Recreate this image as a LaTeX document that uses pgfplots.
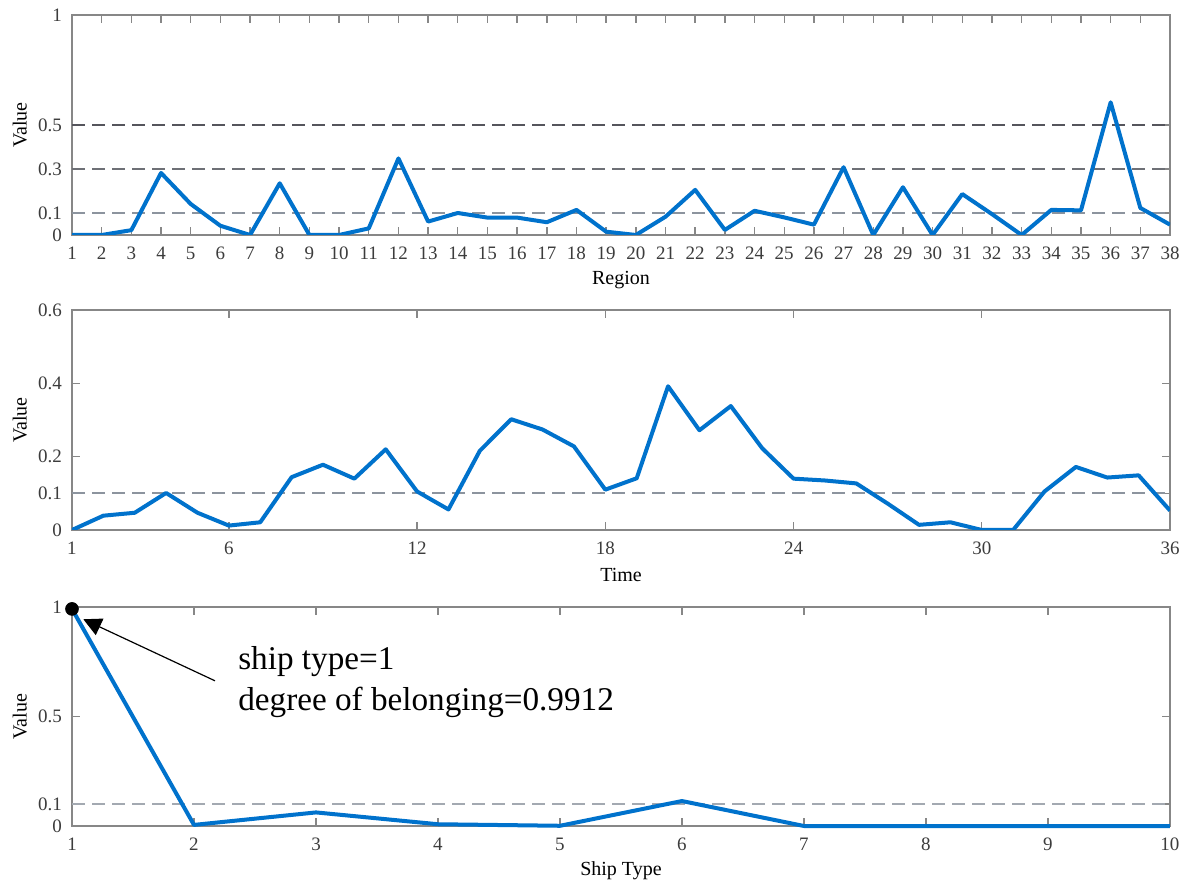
\documentclass[border=0pt]{standalone}
\usepackage{fontspec}
\setmainfont{Liberation Serif}
\usepackage{pgfplots}
\pgfplotsset{compat=1.18}
\usetikzlibrary{arrows.meta}

\definecolor{lineblue}{RGB}{0,114,204}
\definecolor{axgray}{RGB}{135,135,135}
\definecolor{txtgray}{RGB}{60,60,60}
\definecolor{refdark}{RGB}{85,85,92}
\definecolor{refmid}{RGB}{110,112,118}
\definecolor{reflight}{RGB}{140,148,158}

\pgfplotsset{
  panel/.style={
    width=549pt, scale only axis,
    /pgf/number format/assume math mode=true,
    axis line style={draw=axgray, line width=0.7pt},
    tick style={draw=axgray, line width=0.7pt},
    major tick length=4pt,
    tick align=inside,
    xtick pos=both, ytick pos=both,
    ticklabel style={font=\fontsize{9.5}{11}\selectfont, text=txtgray},
    xticklabel style={yshift=-2.5pt},
    yticklabel style={xshift=-1.5pt},
    label style={font=\fontsize{10}{12}\selectfont, text=txtgray},
    every axis x label/.style={at={(axis description cs:0.5,0)}, anchor=center, yshift=-22.5pt},
    every axis y label/.style={at={(axis description cs:-0.0475,0.5)}, anchor=center, rotate=90},
    ylabel={Value},
  },
  refline/.style={dash pattern=on 6.5pt off 3.5pt, line width=0.9pt, forget plot},
  series/.style={color=lineblue, line width=2pt, line join=round, mark=none},
}

\begin{document}
\begin{tikzpicture}
\useasboundingbox (0,0) rectangle (593.5pt,-443pt);

% ---------------- Region ----------------
\begin{axis}[panel, at={(36pt,-7.5pt)}, anchor=north west, height=110pt,
  xmin=1, xmax=38, ymin=0, ymax=1,
  xtick={1,...,38},
  ytick={0,0.1,0.3,0.5,1}, yticklabels={0,0.1,0.3,0.5,1},
  xlabel={Region}]
\addplot[refline, color=reflight] coordinates {(1,0.1) (38,0.1)};
\addplot[refline, color=refmid] coordinates {(1,0.3) (38,0.3)};
\addplot[refline, color=refdark] coordinates {(1,0.5) (38,0.5)};
\addplot[series] coordinates {
 (1,0) (2,0) (3,0.022) (4,0.282) (5,0.141) (6,0.042) (7,0) (8,0.235)
 (9,0) (10,0) (11,0.03) (12,0.348) (13,0.061) (14,0.10) (15,0.079)
 (16,0.079) (17,0.058) (18,0.114) (19,0.015) (20,0) (21,0.083) (22,0.205)
 (23,0.023) (24,0.11) (25,0.08) (26,0.047) (27,0.308) (28,0) (29,0.217)
 (30,0) (31,0.186) (32,0.095) (33,0) (34,0.114) (35,0.112) (36,0.603)
 (37,0.123) (38,0.047)};
\end{axis}

% ---------------- Time ----------------
\begin{axis}[panel, at={(36pt,-155pt)}, anchor=north west, height=110pt,
  xmin=1, xmax=36, ymin=0, ymax=0.6,
  xtick={1,6,12,18,24,30,36},
  ytick={0,0.1,0.2,0.4,0.6}, yticklabels={0,0.1,0.2,0.4,0.6},
  xlabel={Time}]
\addplot[refline, color=reflight] coordinates {(1,0.1) (36,0.1)};
\addplot[series] coordinates {
 (1,0) (2,0.039) (3,0.047) (4,0.101) (5,0.047) (6,0.012) (7,0.021)
 (8,0.144) (9,0.178) (10,0.140) (11,0.220) (12,0.105) (13,0.056)
 (14,0.216) (15,0.302) (16,0.274) (17,0.228) (18,0.110) (19,0.141)
 (20,0.392) (21,0.272) (22,0.338) (23,0.223) (24,0.140) (25,0.135)
 (26,0.127) (27,0.072) (28,0.014) (29,0.021) (30,0) (31,0) (32,0.105)
 (33,0.172) (34,0.143) (35,0.149) (36,0.053)};
\end{axis}

% ---------------- Ship type ----------------
\begin{axis}[panel, at={(36pt,-303.5pt)}, anchor=north west, height=109.5pt,
  xmin=1, xmax=10, ymin=0, ymax=1, clip=false,
  xtick={1,...,10},
  ytick={0,0.1,0.5,1}, yticklabels={0,0.1,0.5,1},
  xlabel={Ship Type}]
\addplot[refline, color=reflight!80!white] coordinates {(1,0.1) (10,0.1)};
\addplot[series] coordinates {
 (1,0.9912) (2,0.005) (3,0.062) (4,0.008) (5,0.001) (6,0.114)
 (7,0) (8,0) (9,0) (10,0)};
\addplot[only marks, mark=*, mark size=3.2pt, color=black] coordinates {(1,0.9912)};
\draw[black, line width=0.6pt, -{Triangle[length=9pt, width=9pt]}]
  (axis cs:2.172,0.663) -- (axis cs:1.093,0.944);
\node[anchor=west, align=left, inner sep=0pt, text=black,
      font=\fontsize{16.6}{20.6}\selectfont] at (axis cs:2.36,0.656)
  {ship type=1\\degree of belonging=0.9912};
\end{axis}
\end{tikzpicture}
\end{document}
